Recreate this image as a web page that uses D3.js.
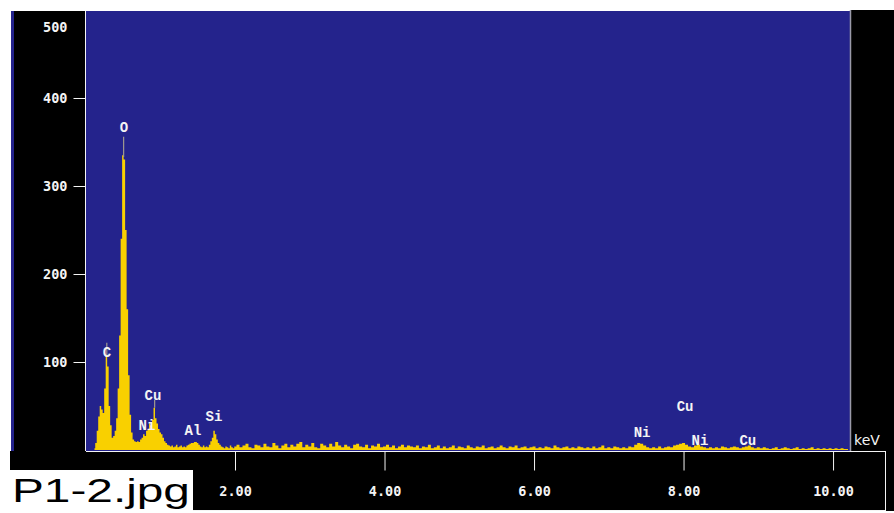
<!DOCTYPE html>
<html>
<head>
<meta charset="utf-8">
<script src="https://cdn.jsdelivr.net/npm/d3@7"></script>
<style>
  html, body { margin: 0; padding: 0; background: #ffffff; overflow: hidden; }
  svg { display: block; }
</style>
</head>
<body>
<svg id="chart" width="894" height="513"></svg>
<script>
// ---------- DATA ----------
// Low-energy channels: start 0.12 keV, 0.02 keV per channel (counts)
const lowStart = 0.12;
const lowStep = 0.02;
const lowCounts = [
  2, 8, 22, 38, 50, 46, 42, 70, 108, 95,
  50, 28, 14, 16, 22, 36, 70, 130, 240, 335,
  330, 250, 160, 85, 40, 20, 12, 10, 9, 10,
  9, 12, 14, 18, 16, 22, 24, 30, 28, 34,
  48, 36, 30, 24, 20, 18, 14, 10, 8, 6,
  5, 4, 5, 3, 4, 6, 3, 4, 5, 3,
  4, 3, 5, 6, 7, 8, 8, 9, 9, 8,
  6, 4, 3, 5, 3, 4, 3, 6, 10, 14,
  22, 18, 12, 8, 6, 4, 3, 2, 4, 3,
  2, 5, 3, 2
];
// High-energy channels: start 2.00 keV, 0.04 keV per channel (counts)
const highStart = 2.00;
const highStep = 0.04;
const highCounts = [
  4, 6, 3, 5, 7, 3, 2, 6, 5, 3,
  7, 4, 3, 8, 5, 2, 5, 7, 3, 6,
  4, 7, 9, 3, 6, 4, 8, 3, 2, 7,
  5, 3, 7, 4, 9, 5, 3, 6, 4, 2,
  6, 7, 4, 3, 6, 2, 5, 4, 7, 3,
  4, 6, 3, 5, 2, 4, 6, 3, 5, 4,
  3, 5, 2, 4, 3, 6, 2, 3, 5, 2,
  4, 2, 3, 5, 2, 4, 3, 2, 5, 3,
  2, 4, 3, 5, 2, 3, 4, 2, 3, 5,
  3, 2, 4, 3, 5, 2, 3, 4, 2, 3,
  4, 2, 3, 2, 4, 3, 2, 5, 3, 2,
  3, 4, 2, 3, 2, 4, 3, 2, 3, 2,
  4, 2, 3, 5, 2, 3, 2, 4, 3, 2,
  3, 2, 4, 3, 6, 8, 7, 5, 3, 2,
  3, 2, 4, 2, 3, 4, 3, 5, 6, 7,
  8, 6, 4, 3, 5, 6, 4, 3, 2, 3,
  2, 3, 2, 4, 3, 2, 3, 4, 3, 2,
  3, 4, 5, 3, 2, 3, 2, 3, 2, 1,
  2, 3, 1, 2, 3, 2, 1, 2, 3, 1,
  2, 1, 2, 3, 1, 2, 1, 2, 1, 2,
  1, 2, 1, 2, 1, 1
];
// Element labels: name, energy (keV), label height (counts)
const labelNames  = ["O", "C", "Cu", "Ni", "Al", "Si", "Ni", "Cu", "Ni", "Cu"];
const labelEnergy = [0.515, 0.288, 0.903, 0.823, 1.438, 1.719, 7.445, 8.02, 8.22, 8.86];
const labelCounts = [367, 111, 62, 28, 23, 39, 20, 50, 11, 11];
// Peak marker lines: energy, from count, to count
const markerEnergy = [0.51, 0.285, 0.925];
const markerFrom   = [333, 108, 48];
const markerTo     = [356, 122, 57];
// Axis ticks
const xTicks = [2, 4, 6, 8, 10];
const yTicks = [100, 200, 300, 400, 500];
const xDomain = [0, 10.22];
const yDomain = [0, 500];
const fileLabel = "P1-2.jpg";
const unitLabel = "keV";

// ---------- BUILD ----------
const spectrum = [];
lowCounts.forEach((c, i) => spectrum.push({ e: lowStart + i * lowStep, c }));
highCounts.forEach((c, i) => spectrum.push({ e: highStart + i * highStep, c }));

const svg = d3.select("#chart");
const plotL = 85.5, plotR = 849.5, plotT = 10, plotB = 450;

const x = d3.scaleLinear().domain(xDomain).range([plotL, plotR]);
const y = d3.scaleLinear().domain(yDomain).range([plotB, plotT]);

const BLUE = "#24238c";
const YELLOW = "#f9d000";
const WHITE = "#f4f4f4";

// background panels
svg.append("rect").attr("x", 12).attr("y", 11).attr("width", 74).attr("height", 440).attr("fill", "#000");
svg.append("rect").attr("x", 11).attr("y", 11).attr("width", 3).attr("height", 440).attr("fill", BLUE);
svg.append("rect").attr("x", 86).attr("y", 11).attr("width", 764).attr("height", 440).attr("fill", BLUE);
svg.append("rect").attr("x", 851).attr("y", 10).attr("width", 43).attr("height", 501).attr("fill", "#000");
svg.append("line").attr("x1", 850.5).attr("x2", 850.5).attr("y1", 10).attr("y2", 451)
  .attr("stroke", "#9a9aa8").attr("stroke-width", 1.5);
svg.append("rect").attr("x", 10).attr("y", 451).attr("width", 884).attr("height", 60).attr("fill", "#000");
svg.append("rect").attr("x", 0).attr("y", 470).attr("width", 193).attr("height", 43).attr("fill", "#fff");

// clip for spectrum
svg.append("clipPath").attr("id", "plotclip")
  .append("rect").attr("x", 86).attr("y", 11).attr("width", 764).attr("height", 440);

// spectrum
const area = d3.area()
  .x(d => x(d.e))
  .y0(y(0))
  .y1(d => y(d.c))
  .curve(d3.curveStep);
svg.append("path")
  .datum(spectrum)
  .attr("clip-path", "url(#plotclip)")
  .attr("fill", YELLOW)
  .attr("d", area);

// peak markers
svg.append("g").selectAll("line").data(markerEnergy).join("line")
  .attr("x1", d => x(d)).attr("x2", d => x(d))
  .attr("y1", (d, i) => y(markerFrom[i])).attr("y2", (d, i) => y(markerTo[i]))
  .attr("stroke", "#a09a90").attr("stroke-width", 1.2);

// plot frame lines
svg.append("line").attr("x1", 85.5).attr("x2", 85.5).attr("y1", 11).attr("y2", 451)
  .attr("stroke", WHITE).attr("stroke-width", 1);
svg.append("line").attr("x1", 86).attr("x2", 885.5).attr("y1", 451.5).attr("y2", 451.5)
  .attr("stroke", WHITE).attr("stroke-width", 1.2);
svg.append("line").attr("x1", 885.5).attr("x2", 885.5).attr("y1", 451).attr("y2", 510.5)
  .attr("stroke", WHITE).attr("stroke-width", 1);
svg.append("line").attr("x1", 193).attr("x2", 886).attr("y1", 510.5).attr("y2", 510.5)
  .attr("stroke", WHITE).attr("stroke-width", 1);

// x axis
const xAxis = d3.axisBottom(x).tickValues(xTicks).tickSize(19).tickFormat(d3.format(".2f"));
const gx = svg.append("g").attr("transform", "translate(0,451.5)").call(xAxis);
gx.select(".domain").remove();
gx.selectAll(".tick line").attr("stroke", WHITE).attr("stroke-width", 1);
gx.selectAll(".tick text")
  .attr("y", 44).attr("dy", null)
  .attr("fill", WHITE)
  .style("font-family", "'DejaVu Sans Mono', monospace")
  .style("font-size", "13.5px")
  .style("font-weight", "bold");

// y axis
const yAxis = d3.axisLeft(y).tickValues(yTicks).tickSize(12).tickPadding(6).tickFormat(d3.format("d"));
const gy = svg.append("g").attr("transform", "translate(85.5,0)").call(yAxis);
gy.select(".domain").remove();
gy.selectAll(".tick line").attr("stroke", WHITE).attr("stroke-width", 1)
  .attr("display", d => d === 500 ? "none" : null);
gy.selectAll(".tick text")
  .attr("fill", WHITE)
  .attr("y", d => d === 500 ? 17 : 0)
  .style("font-family", "'DejaVu Sans Mono', monospace")
  .style("font-size", "13.5px")
  .style("font-weight", "bold");

// element labels
svg.append("g").selectAll("text").data(labelNames).join("text")
  .attr("x", (d, i) => x(labelEnergy[i]))
  .attr("y", (d, i) => y(labelCounts[i]))
  .attr("dy", "0.35em")
  .attr("text-anchor", "middle")
  .attr("fill", WHITE)
  .style("font-family", "'Liberation Mono', monospace")
  .style("font-size", "14px")
  .style("font-weight", "bold")
  .text(d => d);

// unit label
svg.append("text")
  .attr("x", 867).attr("y", 440).attr("dy", "0.35em")
  .attr("text-anchor", "middle")
  .attr("fill", WHITE)
  .style("font-family", "'DejaVu Sans', sans-serif")
  .style("font-size", "14px")
  .text(unitLabel);

// file label (stretched horizontally to the reference width)
const fl = svg.append("text")
  .attr("x", 0).attr("y", 0)
  .attr("fill", "#000")
  .style("font-family", "'Liberation Sans', Arial, sans-serif")
  .style("font-size", "33px")
  .text(fileLabel);
const natural = fl.node().getComputedTextLength();
const sx = 178 / natural;
fl.attr("transform", `translate(12,502) scale(${sx},1)`);
</script>
</body>
</html>
